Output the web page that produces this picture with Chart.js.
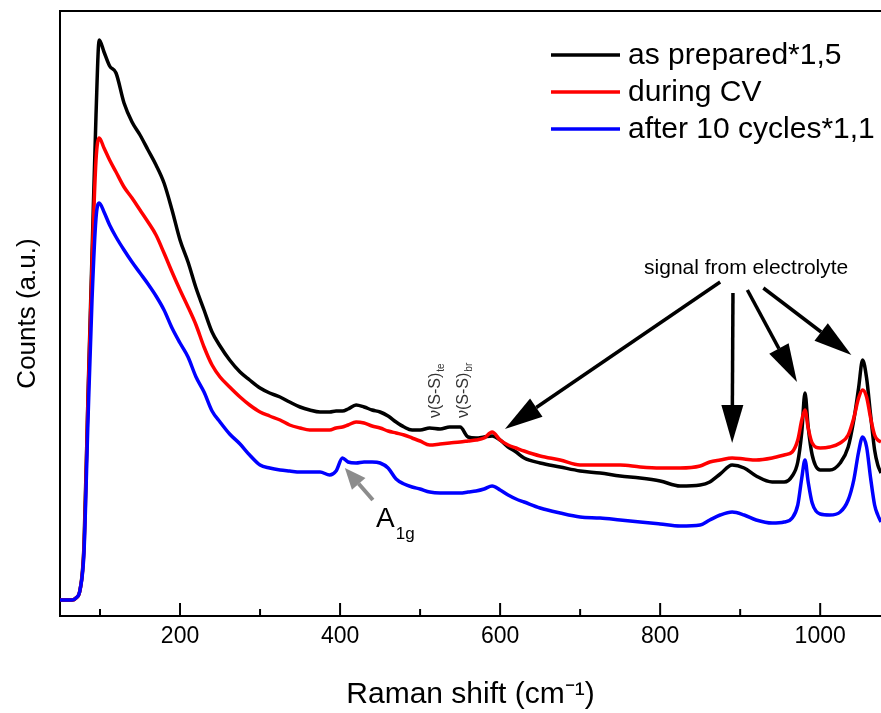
<!DOCTYPE html>
<html>
<head>
<meta charset="utf-8">
<title>Raman spectra</title>
<script src="https://cdn.jsdelivr.net/npm/chart.js@4.4.1/dist/chart.umd.min.js"></script>
<style>
    html, body { margin: 0; padding: 0; background: #fff; overflow: hidden; }
    canvas { display: block; }
</style>
</head>
<body>
<canvas id="ramanChart" width="881" height="713"></canvas>
<script>
// Raman shift positions (cm-1), shared by all three spectra
const ramanShift = [
    50, 60, 65, 70, 75, 80, 85, 90, 95, 99,
    105, 112, 120, 130, 140, 150, 160, 170, 180, 190,
    200, 210, 220, 230, 240, 250, 262, 275, 287, 300,
    312, 325, 337, 350, 362, 375, 387, 395, 403, 410,
    420, 430, 440, 450, 460, 470, 480, 490, 500, 512,
    525, 537, 550, 560, 570, 580, 590, 600, 610, 620,
    630, 650, 675, 700, 725, 750, 775, 800, 825, 850,
    862, 875, 890, 905, 920, 940, 955, 965, 972, 977,
    981, 985, 990, 1000, 1012, 1025, 1035, 1042, 1048, 1053,
    1058, 1063, 1068, 1072, 1076
];

// Counts (a.u.)
const asPrepared = [
    16, 16, 16, 18, 26, 71, 221, 361, 501, 576,
    564, 550, 543, 513, 494, 481, 466, 451, 433, 406,
    376, 354, 328, 306, 284, 270, 256, 244, 236, 228,
    223, 219, 214, 209, 206, 204, 204, 205, 205, 207,
    211, 209, 206, 204, 200, 194, 189, 186, 186, 188,
    187, 189, 189, 179, 178, 179, 180, 176, 169, 164,
    158, 153, 149, 145, 143, 140, 138, 135, 130, 131,
    134, 142, 151, 148, 140, 134, 134, 140, 154, 184,
    223, 189, 161, 146, 146, 153, 169, 196, 228, 256,
    238, 201, 166, 151, 143
];
const duringCV = [
    16, 16, 16, 18, 26, 68, 216, 351, 456, 478,
    468, 456, 444, 429, 418, 406, 394, 381, 363, 344,
    326, 309, 291, 269, 251, 239, 229, 219, 211, 204,
    200, 196, 191, 188, 186, 186, 186, 188, 189, 191,
    194, 193, 190, 188, 185, 183, 181, 178, 175, 171,
    172, 173, 174, 175, 176, 178, 184, 176, 171, 168,
    165, 160, 156, 151, 151, 151, 149, 148, 148, 150,
    154, 156, 158, 157, 156, 158, 161, 164, 176, 196,
    206, 188, 173, 168, 169, 173, 181, 198, 218, 226,
    219, 198, 181, 176, 174
];
const after10Cycles = [
    16, 16, 16, 18, 26, 64, 196, 316, 398, 413,
    404, 391, 379, 366, 354, 343, 332, 320, 306, 288,
    273, 259, 239, 224, 205, 194, 182, 172, 161, 151,
    148, 146, 145, 144, 144, 144, 141, 145, 158, 154,
    153, 154, 154, 153, 148, 137, 132, 129, 127, 124,
    123, 123, 123, 124, 125, 127, 130, 126, 121, 117,
    114, 108, 103, 99, 98, 96, 94, 92, 90, 91,
    96, 101, 104, 101, 96, 93, 94, 98, 111, 138,
    156, 134, 113, 102, 101, 104, 116, 136, 164, 179,
    169, 138, 111, 101, 94
];

const seriesLabels = ['as prepared*1,5', 'during CV', 'after 10 cycles*1,1'];
const seriesColors = ['#000000', '#ff0000', '#0000ff'];
const xTickValues = [200, 400, 600, 800, 1000];
const xMinorTicks = [100, 300, 500, 700, 900];

const FONT = "'Liberation Sans', Arial, sans-serif";

// arrows pointing at the electrolyte bands, in data units (shift, counts)
const electrolyteArrows = [
    { from: [875, 334], to: [606, 187] },
    { from: [891, 323], to: [890, 173] },
    { from: [909, 326], to: [971, 234] },
    { from: [929, 328], to: [1039, 261] }
];

function toPoints(values) {
    return values.map((v, i) => ({ x: ramanShift[i], y: v }));
}

function drawArrow(ctx, x1, y1, x2, y2, headLen, headHalf, color, width) {
    const ang = Math.atan2(y2 - y1, x2 - x1);
    const bx = x2 - headLen * Math.cos(ang);
    const by = y2 - headLen * Math.sin(ang);
    ctx.save();
    ctx.strokeStyle = color;
    ctx.fillStyle = color;
    ctx.lineWidth = width;
    ctx.beginPath();
    ctx.moveTo(x1, y1);
    ctx.lineTo(bx, by);
    ctx.stroke();
    ctx.beginPath();
    ctx.moveTo(x2, y2);
    ctx.lineTo(bx + headHalf * Math.sin(ang), by - headHalf * Math.cos(ang));
    ctx.lineTo(bx - headHalf * Math.sin(ang), by + headHalf * Math.cos(ang));
    ctx.closePath();
    ctx.fill();
    ctx.restore();
}

// frame top line, inward ticks, legend and annotations
const decorations = {
    id: 'decorations',
    afterDatasetsDraw(chart) {
        const ctx = chart.ctx;
        const area = chart.chartArea;
        const xs = chart.scales.x;
        const ys = chart.scales.y;
        const px = v => xs.getPixelForValue(v);
        const py = v => ys.getPixelForValue(v);

        ctx.save();
        ctx.strokeStyle = '#000';
        ctx.lineWidth = 2;
        ctx.beginPath();
        ctx.moveTo(area.left - 1, area.top);
        ctx.lineTo(area.right, area.top);
        ctx.stroke();

        // inward ticks on the x axis
        xTickValues.concat(xMinorTicks).forEach(v => {
            const len = xTickValues.includes(v) ? 13 : 7;
            ctx.beginPath();
            ctx.moveTo(px(v), area.bottom);
            ctx.lineTo(px(v), area.bottom - len);
            ctx.stroke();
        });

        // legend
        ctx.font = '30px ' + FONT;
        ctx.textBaseline = 'middle';
        chart.data.datasets.forEach((ds, i) => {
            const y = 55 + i * 37;
            ctx.strokeStyle = ds.borderColor;
            ctx.lineWidth = 3.5;
            ctx.beginPath();
            ctx.moveTo(551, y);
            ctx.lineTo(620, y);
            ctx.stroke();
            ctx.fillStyle = '#000';
            ctx.fillText(ds.label, 628, y + 1);
        });

        // electrolyte note
        ctx.fillStyle = '#000';
        ctx.font = '21px ' + FONT;
        ctx.textAlign = 'center';
        ctx.fillText('signal from electrolyte', px(907.5), py(348));
        ctx.textAlign = 'left';
        electrolyteArrows.forEach(a => {
            drawArrow(ctx, px(a.from[0]), py(a.from[1]), px(a.to[0]), py(a.to[1]), 38, 11, '#000', 3.5);
        });

        // A1g mode
        drawArrow(ctx, px(441), py(116), px(406), py(148), 21, 9, '#8c8c8c', 4);
        ctx.textBaseline = 'alphabetic';
        ctx.font = '28px ' + FONT;
        const ax = px(445), ay = py(89);
        ctx.fillText('A', ax, ay);
        const aw = ctx.measureText('A').width;
        ctx.font = '17px ' + FONT;
        ctx.fillText('1g', ax + aw + 1, ay + 12);

        // S-S stretching labels, rotated
        [['te', 525], ['br', 560]].forEach(([sub, xv]) => {
            ctx.save();
            ctx.translate(px(xv), py(198));
            ctx.rotate(-Math.PI / 2);
            ctx.fillStyle = '#333';
            ctx.font = '16px ' + FONT;
            ctx.fillText('ν(S-S)', 0, 0);
            const w = ctx.measureText('ν(S-S)').width;
            ctx.font = '10px ' + FONT;
            ctx.fillText(sub, w + 1, 4);
            ctx.restore();
        });
        ctx.restore();
    }
};

const ctxRaman = document.getElementById('ramanChart').getContext('2d');
const ramanChart = new Chart(ctxRaman, {
    type: 'line',
    data: {
        datasets: [asPrepared, duringCV, after10Cycles].map((vals, i) => ({
            label: seriesLabels[i],
            data: toPoints(vals),
            borderColor: seriesColors[i],
            borderWidth: 3.5,
            pointRadius: 0,
            fill: false,
            cubicInterpolationMode: 'monotone',
            order: 3 - i
        }))
    },
    options: {
        responsive: false,
        animation: false,
        layout: { padding: { top: 11, right: 0, bottom: 0, left: 0 } },
        plugins: {
            legend: { display: false },
            tooltip: { enabled: false }
        },
        scales: {
            x: {
                type: 'linear',
                min: 50,
                max: 1076,
                grid: { display: false, drawTicks: false },
                border: { display: true, color: '#000', width: 2 },
                ticks: {
                    color: '#000',
                    font: { family: FONT, size: 23 },
                    padding: 7,
                    callback: v => String(v)
                },
                afterBuildTicks: s => { s.ticks = xTickValues.map(v => ({ value: v })); },
                title: {
                    display: true,
                    text: 'Raman shift (cm⁻¹)',
                    color: '#000',
                    font: { family: FONT, size: 30 },
                    padding: { top: 5, bottom: 0 }
                },
                afterFit: s => { s.height = 97; }
            },
            y: {
                type: 'linear',
                min: 0,
                max: 605,
                grid: { display: false, drawTicks: false },
                border: { display: true, color: '#000', width: 2 },
                ticks: { display: false },
                title: {
                    display: true,
                    text: 'Counts (a.u.)',
                    color: '#000',
                    font: { family: FONT, size: 26 },
                    padding: { top: 12, bottom: 0 }
                },
                afterFit: s => { s.width = 60; }
            }
        }
    },
    plugins: [decorations]
});
</script>
</body>
</html>
